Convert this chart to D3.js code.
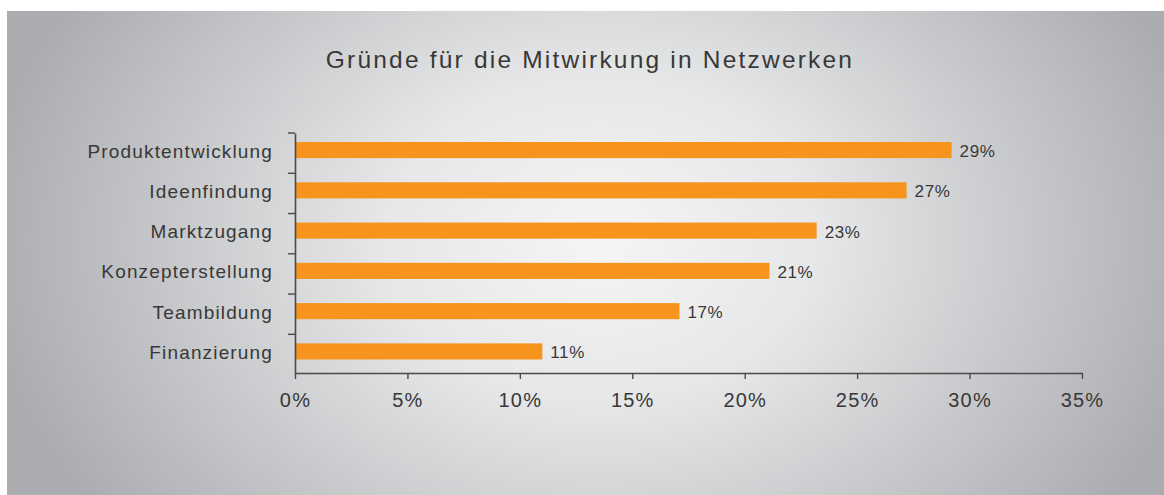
<!DOCTYPE html>
<html><head><meta charset="utf-8">
<script src="https://cdn.jsdelivr.net/npm/d3@7"></script>
<style>
html,body{margin:0;padding:0;background:#fff;}
svg{display:block;}
text{font-family:"Liberation Sans",Arial,sans-serif;fill:#383838;}
</style></head>
<body>
<svg id="c" width="1164" height="495"></svg>
<script>
const categories = ["Produktentwicklung","Ideenfindung","Marktzugang","Konzepterstellung","Teambildung","Finanzierung"];
const values = [29.2, 27.2, 23.2, 21.1, 17.1, 11.0];
const valueLabels = ["29%","27%","23%","21%","17%","11%"];
const xTicks = [0,5,10,15,20,25,30,35];
const title = "Gründe für die Mitwirkung in Netzwerken";

const svg = d3.select("#c");
const defs = svg.append("defs");
const g = defs.append("radialGradient").attr("id","bg")
  .attr("gradientUnits","userSpaceOnUse")
  .attr("cx",600).attr("cy",240).attr("r",620)
  .attr("gradientTransform","translate(600,240) scale(1,0.75) translate(-600,-240)");
g.append("stop").attr("offset","0").attr("stop-color","#f5f5f6");
g.append("stop").attr("offset","0.35").attr("stop-color","#e6e7e8");
g.append("stop").attr("offset","1").attr("stop-color","#abacb0");

svg.append("rect").attr("x",7).attr("y",11).attr("width",1157).attr("height",484).attr("fill","url(#bg)");

const x = d3.scaleLinear().domain([0,35]).range([295,1082]);
const y = d3.scaleBand().domain(categories).range([133,373]).paddingInner(0.6).paddingOuter(0.28).align(0.4);

svg.append("text").attr("x",590).attr("y",68).attr("text-anchor","middle")
  .style("font-size","24.5px").style("letter-spacing","2.2px").text(title);

// bars
svg.selectAll("rect.bar").data(values).enter().append("rect").attr("class","bar")
  .attr("x",x(0)).attr("y",(d,i)=>y(categories[i]))
  .attr("width",d=>x(d)-x(0)).attr("height",y.bandwidth()).attr("fill","#f7941d");

// value labels
svg.selectAll("text.val").data(values).enter().append("text").attr("class","val")
  .attr("x",d=>x(d)+8).attr("y",(d,i)=>y(categories[i])+y.bandwidth()/2+7)
  .style("font-size","17px").style("letter-spacing","0.6px").text((d,i)=>valueLabels[i]);

// x axis
const xa = svg.append("g").attr("transform","translate(0,373)")
  .call(d3.axisBottom(x).tickValues(xTicks).tickSize(6).tickSizeOuter(0).tickPadding(10).tickFormat(d=>d+"%"));
xa.select(".domain").attr("stroke","#4a4a4a").attr("stroke-width",1.6);
xa.selectAll(".tick line").attr("stroke","#4a4a4a").attr("stroke-width",1.4);
xa.selectAll(".tick text").attr("fill","#383838").style("font-size","20px").style("font-family","Liberation Sans, Arial, sans-serif").style("letter-spacing","1.2px").attr("dy","0.9em");

// y axis
const ya = svg.append("g").attr("transform","translate(295,0)")
  .call(d3.axisLeft(y).tickSize(0).tickPadding(22));
ya.select(".domain").attr("stroke","#4a4a4a").attr("stroke-width",1.6);
ya.selectAll(".tick text").attr("fill","#383838").style("font-size","19px").style("font-family","Liberation Sans, Arial, sans-serif").style("letter-spacing","1.15px").attr("dy","0.4em");
const bounds = d3.range(categories.length).map(i => y.range()[0] + i*y.step());
ya.selectAll("line.bt").data(bounds).enter().append("line").attr("class","bt")
  .attr("x1",-7).attr("x2",0).attr("y1",d=>d).attr("y2",d=>d)
  .attr("stroke","#4a4a4a").attr("stroke-width",1.4);
</script>
</body></html>
